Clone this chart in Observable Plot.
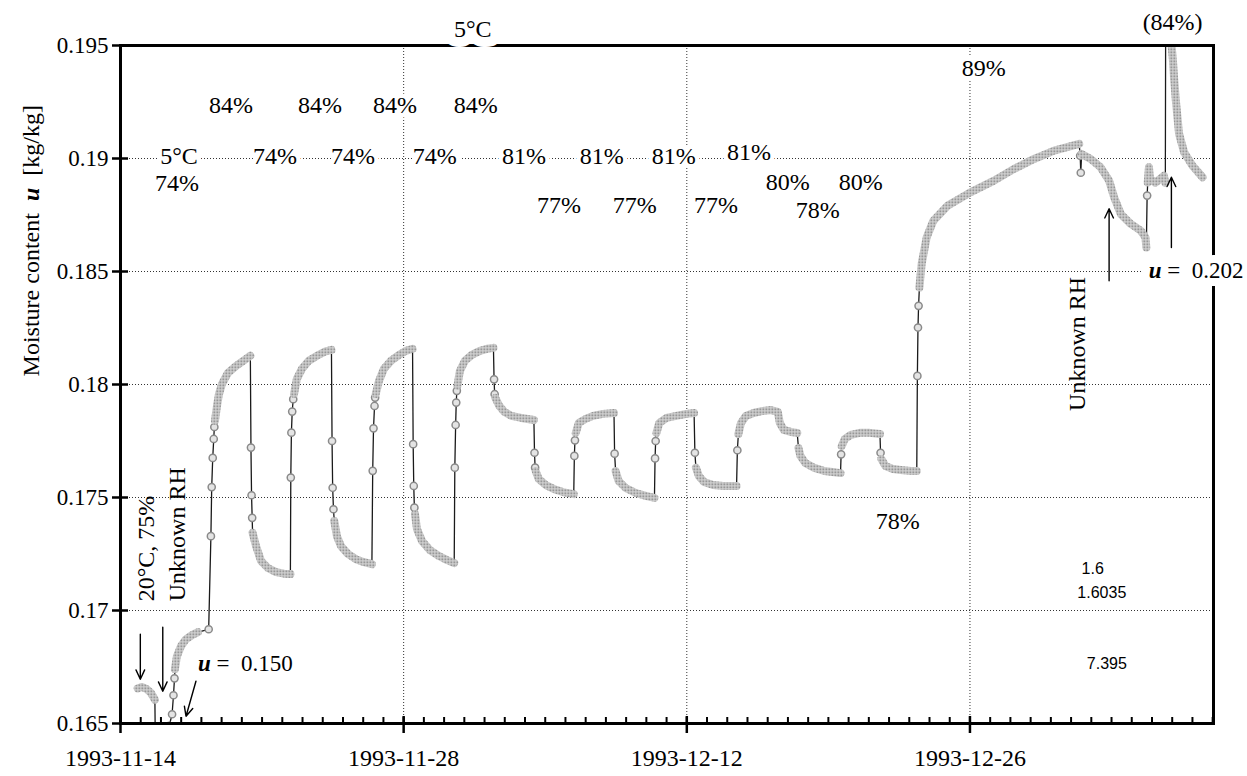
<!DOCTYPE html>
<html>
<head>
<meta charset="utf-8">
<script src="https://cdn.jsdelivr.net/npm/d3@7"></script>
<script src="https://cdn.jsdelivr.net/npm/@observablehq/plot@0.6"></script>
<style>
  html, body { margin: 0; padding: 0; background: #fff; overflow: hidden; }
  #chart svg { display: block; }
</style>
</head>
<body>
<div id="chart"></div>
<script>
// ---------- axes ----------
const startDate = "1993-11-14";
const xDomain = ["1993-11-14", "1994-01-07T01:00:00Z"];
const xTickDates = ["1993-11-14", "1993-11-28", "1993-12-12", "1993-12-26"];
const yDomain = [0.165, 0.195];
const yTickValues = [0.165, 0.17, 0.175, 0.18, 0.185, 0.19, 0.195];
const yTickLabels = ["0.165", "0.17", "0.175", "0.18", "0.185", "0.19", "0.195"];
const yTitle = ["Moisture content\u00a0 u \u00a0[kg/kg]"];
const yTitleU = [0.18636];

// ---------- readings (days after 1993-11-14, moisture content u) ----------
const dayOffsets = [
  0.85,1.05,1.30,1.51,1.70,
  1.72,2.41,2.55,2.62,2.67,
  2.69,2.79,2.99,3.24,3.53,3.83,
  4.36,4.47,4.51,4.56,4.61,4.64,
  4.67,4.77,4.87,5.02,5.31,5.71,6.06,6.42,
  6.45,6.48,6.51,
  6.53,6.70,6.95,7.29,7.69,8.08,8.40,
  8.42,8.45,8.49,8.54,
  8.58,8.72,8.97,9.31,9.71,10.10,10.43,
  10.46,10.49,10.53,
  10.57,10.70,10.90,11.25,11.64,12.04,12.43,
  12.47,12.51,12.56,12.59,
  12.62,12.78,13.02,13.37,13.77,14.11,14.44,
  14.47,14.50,14.53,
  14.56,14.66,14.91,15.30,15.75,16.15,16.50,
  16.53,16.57,16.60,16.63,
  16.66,16.78,17.03,17.37,17.77,18.12,18.44,
  18.47,18.50,
  18.53,18.73,18.98,19.32,19.82,20.44,
  20.47,20.50,
  20.53,20.68,21.03,21.42,21.87,22.41,
  22.44,22.47,
  22.51,22.66,23.00,23.36,23.85,24.40,
  24.43,
  24.48,24.63,24.98,25.48,25.97,26.40,
  26.43,26.46,
  26.50,26.64,26.99,27.48,27.98,28.36,
  28.40,
  28.45,28.60,28.85,29.30,29.80,30.46,
  30.50,
  30.55,30.68,30.92,31.30,31.76,32.16,32.50,32.60,32.80,33.14,33.46,
  33.52,33.62,33.86,34.31,34.80,35.20,35.60,
  35.63,
  35.66,35.81,36.11,36.56,37.05,37.55,
  37.58,
  37.62,37.82,38.19,38.58,39.08,39.37,
  39.40,39.43,39.46,
  39.50,39.61,39.86,40.19,40.89,42.02,43.19,44.18,45.17,46.16,47.40,
  47.45,47.48,
  47.52,47.97,48.46,48.88,49.13,49.46,49.96,50.45,50.68,50.72,
  50.76,
  50.79,50.85,50.90,51.17,51.42,51.59,51.66,
  51.69,
  51.96,52.03,52.09,52.18,52.34,52.59,53.00,53.50
];
const moistureValues = [
  0.16655,0.16662,0.16652,0.16635,0.16605,
  0.16430,0.16490,0.16541,0.16625,0.16700,
  0.16740,0.16798,0.16842,0.16873,0.16891,0.16904,
  0.16917,0.17329,0.17546,0.17675,0.17759,0.17812,
  0.17839,0.17905,0.17958,0.18003,0.18051,0.18082,0.18104,0.18127,
  0.17721,0.17510,0.17410,
  0.17344,0.17285,0.17219,0.17188,0.17170,0.17163,0.17161,
  0.17588,0.17787,0.17880,0.17935,
  0.17958,0.18025,0.18069,0.18105,0.18127,0.18145,0.18153,
  0.17750,0.17543,0.17448,
  0.17396,0.17329,0.17285,0.17250,0.17227,0.17214,0.17205,
  0.17618,0.17806,0.17905,0.17942,
  0.17958,0.18016,0.18069,0.18105,0.18131,0.18149,0.18158,
  0.17736,0.17551,0.17455,
  0.17427,0.17360,0.17307,0.17267,0.17241,0.17223,0.17210,
  0.17632,0.17821,0.17920,0.17972,
  0.17994,0.18060,0.18105,0.18131,0.18149,0.18158,0.18162,
  0.18023,0.17957,
  0.17941,0.17905,0.17879,0.17861,0.17852,0.17843,
  0.17698,0.17632,
  0.17617,0.17582,0.17555,0.17538,0.17524,0.17515,
  0.17684,0.17753,
  0.17786,0.17830,0.17848,0.17861,0.17870,0.17874,
  0.17694,
  0.17617,0.17573,0.17542,0.17520,0.17507,0.17498,
  0.17673,0.17750,
  0.17786,0.17830,0.17852,0.17861,0.17870,0.17874,
  0.17698,
  0.17632,0.17595,0.17569,0.17555,0.17551,0.17551,
  0.17709,
  0.17781,0.17830,0.17861,0.17874,0.17883,0.17887,0.17879,0.17830,0.17799,0.17790,0.17786,
  0.17719,0.17684,0.17653,0.17631,0.17617,0.17613,0.17608,
  0.17691,
  0.17728,0.17759,0.17777,0.17786,0.17786,0.17781,
  0.17698,
  0.17670,0.17639,0.17626,0.17622,0.17617,0.17617,
  0.18038,0.18252,0.18348,
  0.18429,0.18533,0.18651,0.18725,0.18791,0.18850,0.18902,0.18954,0.18998,0.19035,0.19065,
  0.19012,0.18937,
  0.19020,0.18998,0.18961,0.18902,0.18828,0.18754,0.18710,0.18680,0.18650,0.18606,
  0.18836,
  0.18894,0.18961,0.18911,0.18893,0.18911,0.18924,0.18893,
  0.20200,
  0.19508,0.19441,0.19360,0.19256,0.19109,0.19027,0.18968,0.18917
];
// dense (overlapping-marker) stretches get a run number; isolated readings are 0
const bandRun = [
  1,1,1,1,1,
  0,0,0,0,0,
  2,2,2,2,2,2,
  0,0,0,0,0,0,
  3,3,3,3,3,3,3,3,
  0,0,0,
  4,4,4,4,4,4,4,
  0,0,0,0,
  5,5,5,5,5,5,5,
  0,0,0,
  6,6,6,6,6,6,6,
  0,0,0,0,
  7,7,7,7,7,7,7,
  0,0,0,
  8,8,8,8,8,8,8,
  0,0,0,0,
  9,9,9,9,9,9,9,
  0,0,
  10,10,10,10,10,10,
  0,0,
  11,11,11,11,11,11,
  0,0,
  12,12,12,12,12,12,
  0,
  13,13,13,13,13,13,
  0,0,
  14,14,14,14,14,14,
  0,
  15,15,15,15,15,15,
  0,
  16,16,16,16,16,16,16,16,16,16,16,
  17,17,17,17,17,17,17,
  0,
  18,18,18,18,18,18,
  0,
  19,19,19,19,19,19,
  0,0,0,
  20,20,20,20,20,20,20,20,20,20,20,
  0,0,
  21,21,21,21,21,21,21,21,21,21,
  0,
  22,22,22,22,22,22,22,
  0,
  23,23,23,23,23,23,23,23
];

// ---------- annotations ----------
const noteLabels = ["84%","84%","84%","84%","5°C","74%","74%","74%","81%","81%","81%","81%","74%","77%","77%","77%","80%","80%","78%","89%","(84%)","78%"];
const noteDays   = [5.46,9.86,13.57,17.57,2.89,7.64,11.49,15.54,19.95,23.80,27.36,31.07,2.79,21.68,25.43,29.44,32.99,36.60,34.48,42.68,52.02,38.43];
const noteU      = [0.19234,0.19234,0.19234,0.19234,0.1901,0.1901,0.1901,0.1901,0.1901,0.1901,0.1901,0.19026,0.18889,0.18791,0.18791,0.18791,0.18893,0.18893,0.18769,0.19398,0.19602,0.17396];
const topLabel = ["5°C"];
const topLabelDay = [17.42];
const topLabelU = [0.19571];
const mathLabels = ["u =\u00a0\u00a00.150", "u =\u00a0\u00a00.202"];
const mathDays = [3.83, 50.84];
const mathU = [0.16763, 0.18503];
const sideLabels = ["20°C, 75%", "Unknown RH", "Unknown RH"];
const sideDays = [1.26, 2.79, 47.33];
const sideU = [0.17041, 0.17041, 0.17883];
const sansLabels = ["1.6", "1.6035", "7.395"];
const sansDays = [48.07, 48.52, 48.77];
const sansU = [0.17183, 0.17077, 0.16763];
const arrowDayFrom = [0.98, 2.09, 3.73, 48.88, 51.96];
const arrowUFrom   = [0.16895, 0.16926, 0.16687, 0.18459, 0.18606];
const arrowDayTo   = [0.98, 2.09, 3.24, 48.88, 51.96];
const arrowUTo     = [0.16696, 0.16643, 0.16532, 0.18778, 0.18917];

// ---------- build ----------
const day0 = Date.parse(startDate + "T00:00:00Z");
const toTime = d => new Date(day0 + d * 864e5);
const readings = dayOffsets.map((d, i) => ({t: toTime(d), u: moistureValues[i], run: bandRun[i]}));
const majorDates = xTickDates.map(s => new Date(s + "T00:00:00Z"));
const dailyDates = d3.utcDay.range(new Date(xDomain[0] + "T00:00:00Z"), new Date(xDomain[1]));
const serif = "'Liberation Serif','Times New Roman',Times,serif";

const chart = Plot.plot({
  width: 1247,
  height: 776,
  marginLeft: 120,
  marginRight: 34,
  marginTop: 45,
  marginBottom: 53,
  style: {fontFamily: serif, fontSize: "22px", color: "#000", background: "#fff", overflow: "visible"},
  x: {type: "utc", domain: [new Date(xDomain[0] + "T00:00:00Z"), new Date(xDomain[1])], label: null},
  y: {domain: yDomain, label: null},
  marks: [
    Plot.gridY(yTickValues.slice(1, -1), {stroke: "#333", strokeOpacity: 1, strokeWidth: 1, strokeDasharray: "1,2"}),
    Plot.gridX(majorDates.slice(1), {stroke: "#333", strokeOpacity: 1, strokeWidth: 1, strokeDasharray: "1,2"}),
    Plot.line(readings, {x: "t", y: "u", stroke: "#1a1a1a", strokeWidth: 1.3, clip: true}),
    Plot.dot(readings.filter(r => r.run === 0), {x: "t", y: "u", r: 3.6, fill: "#e4e4e4", stroke: "#8a8a8a", strokeWidth: 1.5, clip: true}),
    Plot.line(readings.filter(r => r.run > 0), {x: "t", y: "u", z: "run", stroke: "url(#stipple)", strokeWidth: 8, strokeLinecap: "round", strokeLinejoin: "round", clip: true}),
    Plot.frame({stroke: "#000", strokeWidth: 3}),
    // axes
    Plot.axisY(yTickValues, {tickSize: 0, tickPadding: 12, fontSize: 23, tickFormat: v => yTickLabels[yTickValues.indexOf(v)]}),
    Plot.axisY(yTickValues, {tickSize: 16, dx: 8, strokeWidth: 2.5, tickFormat: () => ""}),
    Plot.axisX(majorDates, {tickSize: 0, tickPadding: 25, fontSize: 24, tickFormat: d => xTickDates[majorDates.findIndex(m => +m === +d)]}),
    Plot.axisX(majorDates, {tickSize: 17, dy: -7, strokeWidth: 2.5, tickFormat: () => ""}),
    Plot.axisX(dailyDates, {tickSize: 6, dy: -6, strokeWidth: 2, tickFormat: () => ""}),
    // y title
    Plot.text(yTitle, {frameAnchor: "left", dx: -89, y: (d, i) => yTitleU[i], text: d => d, rotate: -90, textAnchor: "middle", fontSize: 24, fill: "#000"}),
    // annotations with white halos
    Plot.text(topLabel, {x: (d, i) => toTime(topLabelDay[i]), y: (d, i) => topLabelU[i], text: d => d, fontSize: 24, fill: "#fff", stroke: "#fff", strokeWidth: 20}),
    Plot.text(topLabel, {x: (d, i) => toTime(topLabelDay[i]), y: (d, i) => topLabelU[i], text: d => d, fontSize: 24, fill: "#000"}),
    Plot.text(noteLabels, {x: (d, i) => toTime(noteDays[i]), y: (d, i) => noteU[i], text: d => d, fontSize: 24, fill: "#fff", stroke: "#fff", strokeWidth: 9}),
    Plot.text(noteLabels, {x: (d, i) => toTime(noteDays[i]), y: (d, i) => noteU[i], text: d => d, fontSize: 24, fill: "#000"}),
    Plot.text(mathLabels, {x: (d, i) => toTime(mathDays[i]), y: (d, i) => mathU[i], text: d => d, textAnchor: "start", fontSize: 23, fill: "#fff", stroke: "#fff", strokeWidth: 16}),
    Plot.text(mathLabels, {x: (d, i) => toTime(mathDays[i]), y: (d, i) => mathU[i], text: d => d, textAnchor: "start", fontSize: 23, fill: "#000"}),
    Plot.text(sideLabels, {x: (d, i) => toTime(sideDays[i]), y: (d, i) => sideU[i], text: d => d, rotate: -90, textAnchor: "start", fontSize: 24, fill: "#000"}),
    Plot.text(sansLabels, {x: (d, i) => toTime(sansDays[i]), y: (d, i) => sansU[i], text: d => d, fontFamily: "'Liberation Sans',Arial,sans-serif", fontSize: 16, fill: "#000"}),
    Plot.arrow(arrowDayFrom, {
      x1: (d, i) => toTime(arrowDayFrom[i]), y1: (d, i) => arrowUFrom[i],
      x2: (d, i) => toTime(arrowDayTo[i]), y2: (d, i) => arrowUTo[i],
      stroke: "#000", strokeWidth: 1.4, headLength: 11, headAngle: 50
    })
  ]
});

const svg = chart.tagName.toLowerCase() === "svg" ? chart : chart.querySelector("svg");
const NS = "http://www.w3.org/2000/svg";
const defs = document.createElementNS(NS, "defs");
defs.innerHTML = '<pattern id="stipple" width="3" height="3" patternUnits="userSpaceOnUse">' +
  '<rect width="3" height="3" fill="#d6d6d6"></rect><rect width="1.6" height="1.6" fill="#767676"></rect></pattern>';
svg.insertBefore(defs, svg.firstChild);

// typeset the symbol u in bold italic
svg.querySelectorAll("text").forEach(t => {
  if (t.querySelector("tspan")) return;
  const s = t.textContent;
  let idx = -1;
  if (s.startsWith("u ")) idx = 0;
  else { const k = s.indexOf(" u "); if (k >= 0) idx = k + 1; }
  if (idx < 0) return;
  const parts = [[s.slice(0, idx), false], ["u", true], [s.slice(idx + 1), false]];
  t.textContent = "";
  t.setAttribute("xml:space", "preserve");
  for (const [txt, em] of parts) {
    if (!txt) continue;
    const ts = document.createElementNS(NS, "tspan");
    ts.textContent = txt;
    if (em) { ts.setAttribute("font-weight", "bold"); ts.setAttribute("font-style", "italic"); }
    t.appendChild(ts);
  }
});

document.getElementById("chart").appendChild(chart);
</script>
</body>
</html>
